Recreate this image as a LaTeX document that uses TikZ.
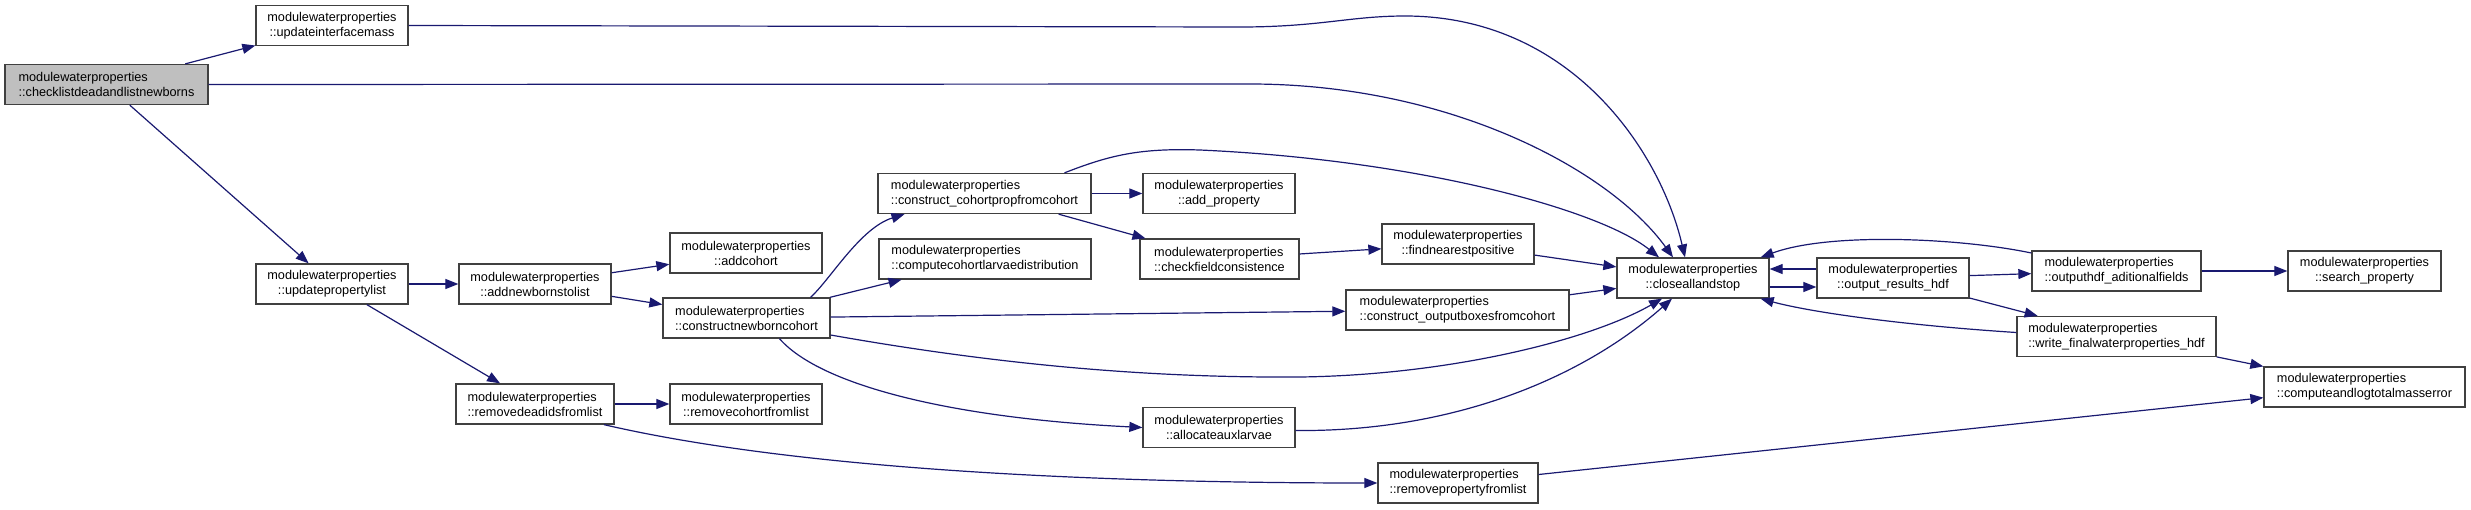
\documentclass[tikz,border=0pt]{standalone}
\usepackage{fontspec}
\setmainfont{Liberation Sans}
\usetikzlibrary{arrows.meta}
\definecolor{callink}{RGB}{25,25,112}
\definecolor{rim}{RGB}{64,64,64}
\definecolor{rootfill}{RGB}{191,191,191}
\tikzset{
  fn/.style={draw=rim, line width=1.3pt, fill=white, minimum width=152pt, minimum height=40pt, inner sep=2pt, align=center, font=\fontsize{12.7pt}{15pt}\selectfont},
  fnl/.style={fn, align=left},
  root/.style={fnl, fill=rootfill},
  call/.style={draw=callink, line width=1.2pt, -{Triangle[length=13pt,width=10pt]}},
}
\begin{document}
\begin{tikzpicture}[x=1pt, y=-1pt]
  \useasboundingbox (0,0) rectangle (2471,509);
  % caller on the left, everything funnels into closeallandstop
  \node[root, minimum width=203pt] (chk) at (106.5,84.5) {modulewaterproperties\\::checklistdeadandlistnewborns};
  \node[fn] (uim) at (332,25.5) {modulewaterproperties\\::updateinterfacemass};
  \node[fn] (upl) at (332,284) {modulewaterproperties\\::updatepropertylist};
  \node[fn] (anl) at (535,284) {modulewaterproperties\\::addnewbornstolist};
  \node[fnl, minimum width=158pt] (rdl) at (535,404) {modulewaterproperties\\::removedeadidsfromlist};
  \node[fn] (adc) at (746,253) {modulewaterproperties\\::addcohort};
  \node[fnl, minimum width=167pt] (cnc) at (746.5,318) {modulewaterproperties\\::constructnewborncohort};
  \node[fn] (rcl) at (746,404) {modulewaterproperties\\::removecohortfromlist};
  \node[fnl, minimum width=213pt] (ccp) at (984.5,193.5) {modulewaterproperties\\::construct\_cohortpropfromcohort};
  \node[fnl, minimum width=212pt] (ccl) at (985,259) {modulewaterproperties\\::computecohortlarvaedistribution};
  \node[fn] (adp) at (1219,193.5) {modulewaterproperties\\::add\_property};
  \node[fnl, minimum width=159pt] (cfc) at (1219.5,259) {modulewaterproperties\\::checkfieldconsistence};
  \node[fn] (aal) at (1219,427.5) {modulewaterproperties\\::allocateauxlarvae};
  \node[fn] (fnp) at (1458,244) {modulewaterproperties\\::findnearestpositive};
  \node[fnl, minimum width=223pt] (cob) at (1457.5,310) {modulewaterproperties\\::construct\_outputboxesfromcohort};
  \node[fnl, minimum width=160pt] (rpl) at (1458,483) {modulewaterproperties\\::removepropertyfromlist};
  \node[fn] (cas) at (1693,278) {modulewaterproperties\\::closeallandstop};
  \node[fn] (orh) at (1893,278) {modulewaterproperties\\::output\_results\_hdf};
  \node[fnl, minimum width=169pt] (ohf) at (2116.5,271) {modulewaterproperties\\::outputhdf\_aditionalfields};
  \node[fnl, minimum width=199pt] (wfh) at (2116.5,336.5) {modulewaterproperties\\::write\_finalwaterproperties\_hdf};
  \node[fn, minimum width=153pt] (spr) at (2364.5,271) {modulewaterproperties\\::search\_property};
  \node[fnl, minimum width=201pt] (cal) at (2364.5,387) {modulewaterproperties\\::computeandlogtotalmasserror};
  % straight calls
  \foreach \a/\b in {chk/uim, chk/upl, upl/anl, upl/rdl, anl/adc, anl/cnc, rdl/rcl, cnc/ccl, cnc/cob, ccp/adp, ccp/cfc, cfc/fnp, fnp/cas, cob/cas, orh/ohf, orh/wfh, ohf/spr, wfh/cal, rpl/cal} { \draw[call] (\a) -- (\b); }
  \draw[call] ([yshift=-9pt]cas.east) -- ([yshift=-9pt]orh.west);
  \draw[call] ([yshift=9pt]orh.west) -- ([yshift=9pt]cas.east);
  % curved calls
  \draw[call] (chk.east) -- (1250,84) .. controls (1450,84) and (1610,170) .. ([xshift=-20pt]cas.north);
  \draw[call] (uim.east) -- (1240,27) .. controls (1320,27) and (1350,16) .. (1405,16) .. controls (1570,16) and (1660,150) .. ([xshift=-8pt]cas.north);
  \draw[call] ([xshift=80pt]ccp.north) .. controls (1110,155) and (1140,148) .. (1200,150) .. controls (1420,160) and (1600,210) .. ([xshift=-34pt]cas.north);
  \draw[call] ([xshift=64pt]cnc.north) .. controls (830,280) and (860,228) .. ([xshift=-80pt]ccp.south);
  \draw[call] ([yshift=-17pt]cnc.east) .. controls (1000,365) and (1150,378) .. (1300,377) .. controls (1450,375) and (1590,340) .. ([xshift=-31pt]cas.south);
  \draw[call] ([xshift=33pt]cnc.south) .. controls (820,385) and (950,418) .. (aal.west);
  \draw[call] ([yshift=-3pt]aal.east) .. controls (1450,432) and (1580,380) .. ([xshift=-21pt]cas.south);
  \draw[call] ([xshift=69pt]rdl.south) .. controls (800,470) and (1100,483) .. (rpl.west);
  \draw[call] ([yshift=18pt]ohf.west) .. controls (1960,238) and (1830,232) .. ([xshift=-9pt]cas.north east);
  \draw[call] ([yshift=4pt]wfh.west) .. controls (1900,325) and (1810,312) .. ([xshift=-9pt]cas.south east);
\end{tikzpicture}
\end{document}
